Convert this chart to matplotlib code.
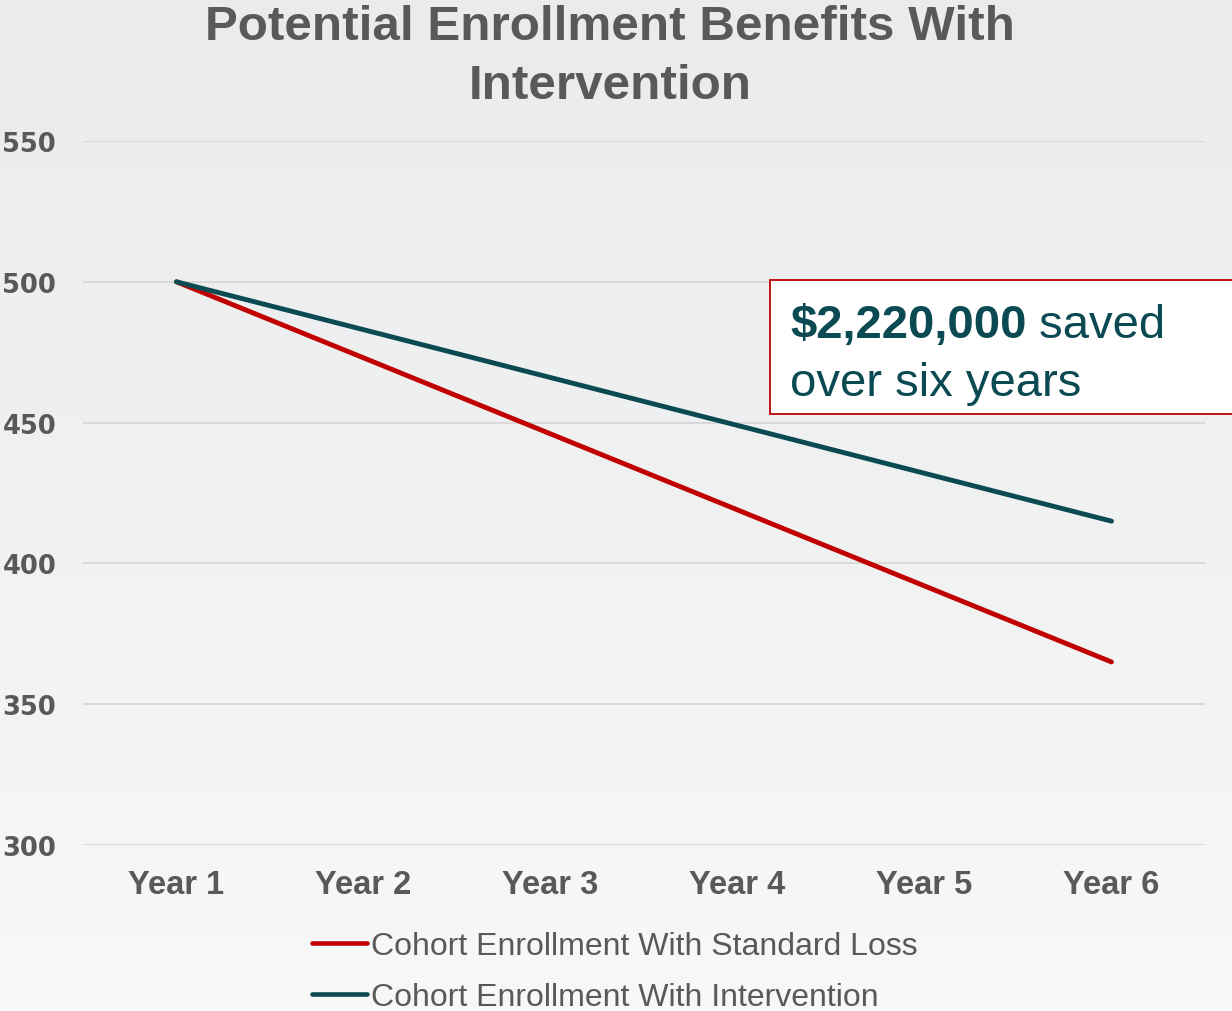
import numpy as np
import matplotlib
matplotlib.use('Agg')
import matplotlib.pyplot as plt
from matplotlib.patches import Rectangle
from matplotlib.text import Annotation

# chart data
years = ['Year 1', 'Year 2', 'Year 3', 'Year 4', 'Year 5', 'Year 6']
standard_loss = [500, 473, 446, 419, 392, 365]
intervention = [500, 483, 466, 449, 432, 415]
series_names = ['Cohort Enrollment With Standard Loss', 'Cohort Enrollment With Intervention']
y_ticks = [300, 350, 400, 450, 500, 550]
title_lines = ['Potential Enrollment Benefits With', 'Intervention']

RED = '#C00000'
TEAL = '#0B4A52'
GRAY = '#595959'

plt.rcParams['font.family'] = ['Liberation Sans', 'DejaVu Sans']

fig = plt.figure(figsize=(12.32, 10.12), dpi=100)

# soft gray background gradient
bg = fig.add_axes([0, 0, 1, 1], zorder=-10)
grad = np.linspace(0, 1, 256).reshape(-1, 1)
bg.imshow(grad, aspect='auto', cmap=matplotlib.colors.LinearSegmentedColormap.from_list(
    'bg', ['#EAEBEC', '#F0F1F1', '#F8F8F8']), extent=[0, 1, 0, 1])
bg.set_axis_off()

ax = fig.add_axes([83 / 1232, 1 - 846 / 1012, (1205 - 83) / 1232, (846 - 142) / 1012])
ax.patch.set_alpha(0)
x = np.arange(len(years))
ax.plot(x, standard_loss, color=RED, lw=3.5, solid_capstyle='round', label=series_names[0], zorder=3)
ax.plot(x, intervention, color=TEAL, lw=3.5, solid_capstyle='round', label=series_names[1], zorder=4)

ax.set_xlim(-0.5, len(years) - 0.5)
ax.set_ylim(300, 550)
ax.set_yticks(y_ticks)
ax.set_xticks(x)
ax.set_xticklabels(years)
ax.grid(axis='y', color='#D9D9D9', lw=1.4)
ax.set_axisbelow(True)
for s in ax.spines.values():
    s.set_visible(False)
ax.tick_params(length=0)
ax.tick_params(axis='x', pad=17, labelsize=23.5, labelcolor=GRAY)
ax.tick_params(axis='y', pad=58, labelcolor=GRAY)
for lab in ax.get_xticklabels():
    lab.set_fontweight('bold')
for lab in ax.get_yticklabels():
    lab.set_horizontalalignment('left')
    lab.set_fontweight('heavy')
    lab.set_family('DejaVu Sans')
    lab.set_fontsize(18.5)

# title
fig.text(610 / 1232, 1 - 40 / 1012, title_lines[0], ha='center', va='baseline',
         fontsize=35.6, fontweight='bold', color=GRAY)
fig.text(610 / 1232, 1 - 99 / 1012, title_lines[1], ha='center', va='baseline',
         fontsize=35.6, fontweight='bold', color=GRAY)

# callout box
fig.add_artist(Rectangle((770 / 1232, 1 - 415 / 1012), 480 / 1232, 134 / 1012,
                         transform=fig.transFigure, facecolor='white',
                         edgecolor=RED, lw=1.3, zorder=5))
t1 = fig.text(790 / 1232, 1 - 338 / 1012, '$2,220,000', ha='left', va='baseline',
              fontsize=34, fontweight='bold', color=TEAL, zorder=6)
fig.add_artist(Annotation(' saved', xy=(1, 0), xycoords=t1,
                          ha='left', va='bottom', fontsize=34,
                          color=TEAL, zorder=6))
fig.text(790 / 1232, 1 - 396 / 1012, 'over six years', ha='left', va='baseline',
         fontsize=34, color=TEAL, zorder=6)

# legend
leg = fig.legend(loc='upper left', bbox_to_anchor=(312 / 1232, 1 - 932 / 1012),
                 frameon=False, fontsize=23, handlelength=1.72, handletextpad=0.12,
                 labelspacing=0.66, borderpad=0, borderaxespad=0)
for t in leg.get_texts():
    t.set_color(GRAY)
for h in leg.get_lines():
    h.set_linewidth(3.3)

fig.savefig('out.png', dpi=100)
